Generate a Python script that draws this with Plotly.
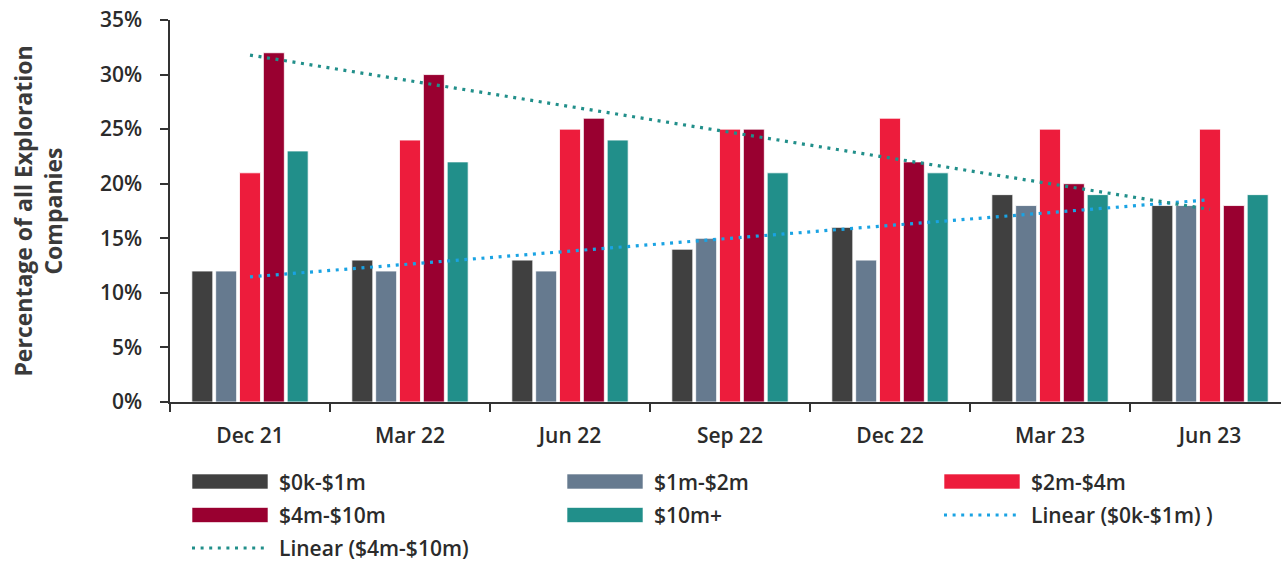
import numpy as np
import plotly.graph_objects as go

# Quarter-end snapshots
quarters = ["Dec 21", "Mar 22", "Jun 22", "Sep 22", "Dec 22", "Mar 23", "Jun 23"]

# Share of exploration companies (%) by cash band
cash_0k_1m = [12, 13, 13, 14, 16, 19, 18]
cash_1m_2m = [12, 12, 12, 15, 13, 18, 18]
cash_2m_4m = [21, 24, 25, 25, 26, 25, 25]
cash_4m_10m = [32, 30, 26, 25, 22, 20, 18]
cash_10m_plus = [23, 22, 24, 21, 21, 19, 19]

band_names = ["$0k-$1m", "$1m-$2m", "$2m-$4m", "$4m-$10m", "$10m+"]
band_values = [cash_0k_1m, cash_1m_2m, cash_2m_4m, cash_4m_10m, cash_10m_plus]
band_colors = ["#404040", "#667a8f", "#ed1c3c", "#990030", "#218f8a"]

trend_names = ["Linear ($0k-$1m) )", "Linear ($4m-$10m)"]
trend_sources = [cash_0k_1m, cash_4m_10m]
trend_colors = ["#1aa3e3", "#218f8a"]

y_ticks = [0, 5, 10, 15, 20, 25, 30, 35]

FONT = "Open Sans"
TEXT = "#2b2b2b"

W, H = 1281, 561
M_L, M_R, M_T, M_B = 170, 0, 20, 159
PLOT_W = W - M_L - M_R
PLOT_H = H - M_T - M_B

fig = go.Figure()

for name, vals, color in zip(band_names, band_values, band_colors):
    fig.add_trace(go.Bar(
        x=quarters, y=vals, name=name,
        marker=dict(color=color, line=dict(color="rgba(255,255,255,0.8)", width=1)),
        showlegend=False,
    ))

# Least-squares linear trend lines over the quarter index
idx = np.arange(len(quarters))
for name, vals, color in zip(trend_names, trend_sources, trend_colors):
    slope, intercept = np.polyfit(idx, vals, 1)
    fig.add_trace(go.Scatter(
        x=quarters, y=slope * idx + intercept, name=name, mode="lines",
        line=dict(color=color, width=3.2, dash="3px,5.6px"),
        showlegend=False,
    ))

# Legend laid out as a 3-column grid of swatches and labels below the axis
col_x = [192, 567, 944]
row_y = [481.5, 515, 548]
sw_w, sw_h = 76, 15
entries = [(n, c, "bar") for n, c in zip(band_names, band_colors)]
entries.insert(5, (trend_names[0], trend_colors[0], "line"))
entries.append((trend_names[1], trend_colors[1], "line"))


def px(x):
    # page pixel -> paper fraction of the plotting area
    return (x - M_L) / PLOT_W


def py(y):
    return (H - M_B - y) / PLOT_H


shapes = []
annotations = []
for i, (name, color, kind) in enumerate(entries):
    x0 = col_x[i % 3]
    yc = row_y[i // 3]
    if kind == "bar":
        shapes.append(dict(type="rect", xref="paper", yref="paper",
                           x0=px(x0), x1=px(x0 + sw_w), y0=py(yc + sw_h / 2), y1=py(yc - sw_h / 2),
                           fillcolor=color, line=dict(color="rgba(255,255,255,0.6)", width=1)))
    else:
        shapes.append(dict(type="line", xref="paper", yref="paper",
                           x0=px(x0), x1=px(x0 + sw_w), y0=py(yc), y1=py(yc),
                           line=dict(color=color, width=3.2, dash="3px,5.6px")))
    annotations.append(dict(xref="paper", yref="paper", x=px(x0 + sw_w + 9), y=py(yc),
                            text=name, showarrow=False, xanchor="left", yanchor="middle",
                            font=dict(family=FONT, size=21, color=TEXT, weight=600)))

fig.update_layout(
    width=W, height=H,
    margin=dict(l=M_L, r=M_R, t=M_T, b=M_B),
    plot_bgcolor="white", paper_bgcolor="white",
    barmode="group", bargap=0.255, bargroupgap=0.12,
    shapes=shapes, annotations=annotations,
    font=dict(family=FONT, color=TEXT),
    xaxis=dict(
        type="category", range=[-0.5, -0.5 + PLOT_W / 160], tickson="boundaries",
        ticks="outside", ticklen=8, tickwidth=1.5, tickcolor="#333",
        showline=True, linecolor="#333", linewidth=1.5,
        showgrid=False, zeroline=False, ticklabelstandoff=14,
        tickfont=dict(family=FONT, size=21, color=TEXT, weight=600),
    ),
    yaxis=dict(
        range=[0, 35], tickvals=y_ticks, ticktext=[f"{v}%" for v in y_ticks],
        ticks="outside", ticklen=8, tickwidth=1.5, tickcolor="#333",
        showline=True, linecolor="#333", linewidth=1.5,
        showgrid=False, zeroline=False, ticklabelstandoff=14,
        tickfont=dict(family=FONT, size=21, color=TEXT, weight=600),
        title=dict(text="Percentage of all Exploration<br>Companies", standoff=31,
                   font=dict(family=FONT, size=23, color="#3a3a3a", weight=700)),
    ),
)

fig.write_html("out.html")
